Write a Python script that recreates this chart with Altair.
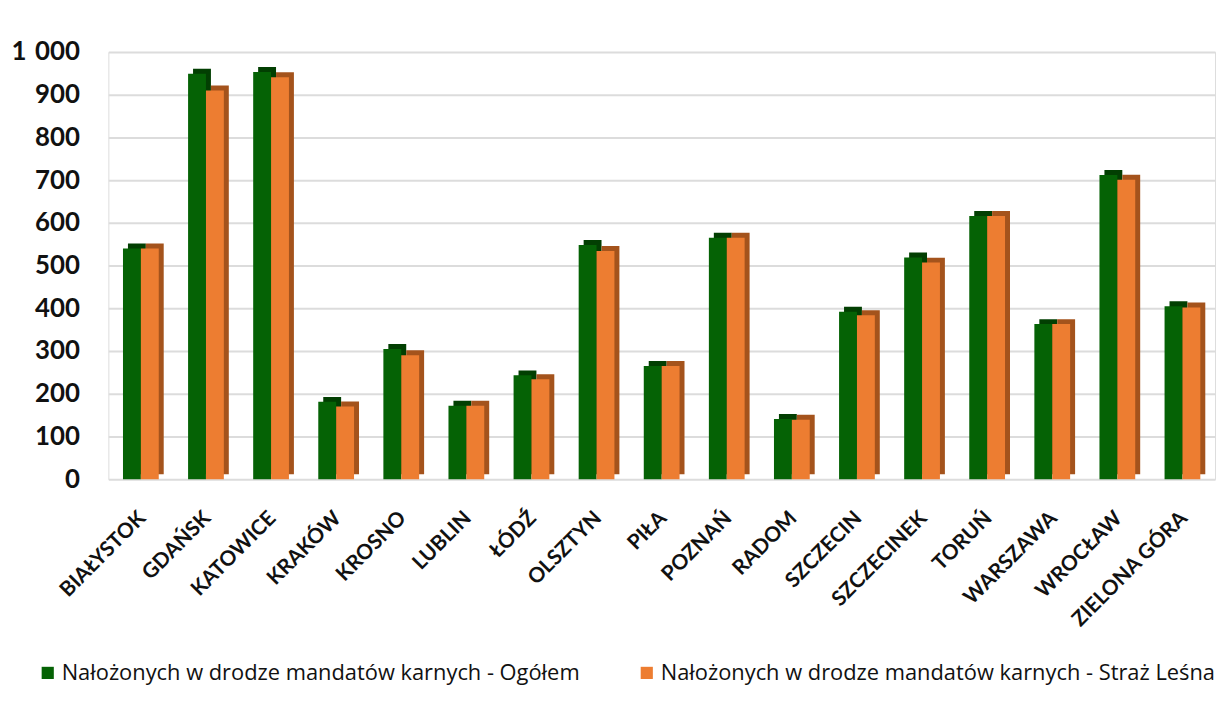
import altair as alt
import pandas as pd

cities = ["BIAŁYSTOK", "GDAŃSK", "KATOWICE", "KRAKÓW", "KROSNO", "LUBLIN", "ŁÓDŹ",
          "OLSZTYN", "PIŁA", "POZNAŃ", "RADOM", "SZCZECIN", "SZCZECINEK", "TORUŃ",
          "WARSZAWA", "WROCŁAW", "ZIELONA GÓRA"]
series = ["Nałożonych w drodze mandatów karnych - Ogółem",
          "Nałożonych w drodze mandatów karnych - Straż Leśna"]
ogolem = [540, 949, 953, 181, 305, 172, 243, 548, 265, 565, 141, 392, 519, 616, 363, 712, 405]
straz = [540, 910, 941, 170, 290, 172, 234, 534, 265, 565, 139, 384, 507, 616, 363, 701, 402]
face_colors = ["#056205", "#ED7D31"]
side_colors = ["#023F02", "#A4531C"]

rows = []
for c, a, b in zip(cities, ogolem, straz):
    rows.append({"city": c, "series": series[0], "value": a})
    rows.append({"city": c, "series": series[1], "value": b})
df = pd.DataFrame(rows)

x = alt.X("city:N", sort=cities, title=None,
          scale=alt.Scale(paddingInner=0.45, paddingOuter=0.225),
          axis=alt.Axis(labelAngle=-45, labelFont="Lato", labelFontWeight="bold",
                        labelFontSize=21, labelColor="#111111", labelPadding=28,
                        labelOffset=-6, ticks=False, domain=False, grid=False))
y = alt.Y("value:Q", title=None,
          scale=alt.Scale(domain=[0, 1000], nice=False),
          axis=alt.Axis(values=list(range(0, 1001, 100)),
                        labelExpr="datum.value == 1000 ? '1\u2004000' : datum.label",
                        labelFont="Lato", labelFontWeight="bold", labelFontSize=26,
                        labelColor="#111111", labelPadding=29, ticks=False,
                        domain=False, gridColor="#DCDCDC", gridWidth=2))

base = alt.Chart(df)
shadow = base.mark_bar(yOffset=-5, y2Offset=-5).encode(
    x=x, y=y,
    xOffset=alt.XOffset("series:N", sort=series, scale=alt.Scale(range=[5, 41])),
    color=alt.Color("series:N", sort=series,
                    scale=alt.Scale(domain=series, range=side_colors), legend=None),
)
face = base.mark_bar().encode(
    x=x, y=y,
    xOffset=alt.XOffset("series:N", sort=series, scale=alt.Scale(range=[0, 36])),
    color=alt.Color("series:N", sort=series,
                    scale=alt.Scale(domain=series, range=face_colors),
                    legend=alt.Legend(title=None, orient="none", legendX=-72, legendY=614,
                                      direction="horizontal", symbolType="square",
                                      symbolSize=150, symbolStrokeWidth=0,
                                      labelFont="Open Sans", labelFontSize=22,
                                      labelColor="#111111", columnPadding=56,
                                      labelLimit=700, labelOffset=3)),
)

chart = alt.layer(shadow, face).resolve_scale(color="independent", xOffset="independent").properties(
    width=1114, height=430,
    autosize=alt.AutoSizeParams(type="none"),
    padding={"left": 101, "top": 42, "right": 2, "bottom": 220},
).configure_view(stroke=None).configure(background="white")

chart.save("out.html", embed_options={"renderer": "svg", "actions": False})
